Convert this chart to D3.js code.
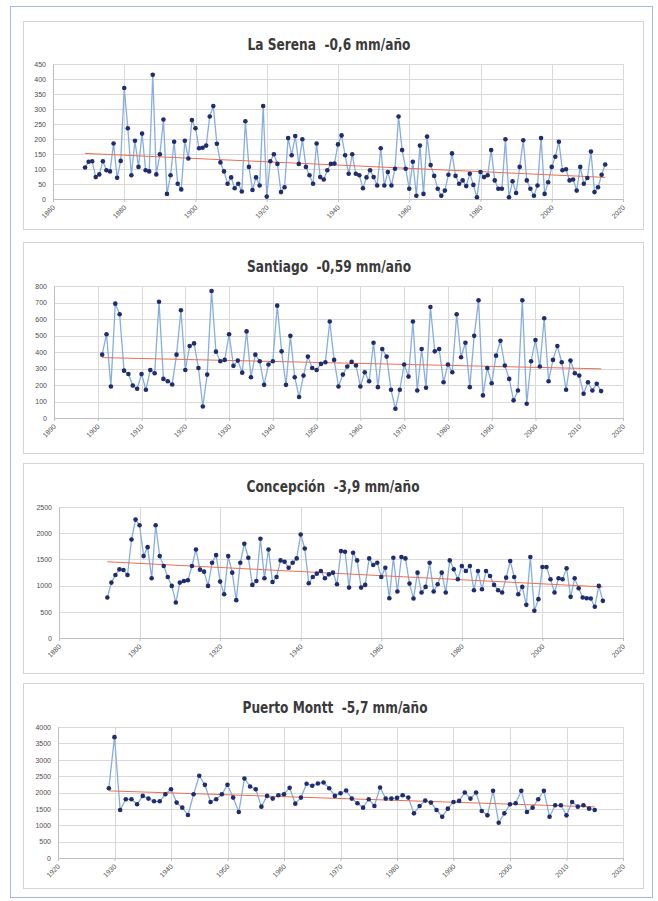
<!DOCTYPE html>
<html>
<head>
<meta charset="utf-8">
<script src="https://cdn.jsdelivr.net/npm/d3@7/dist/d3.min.js"></script>
<style>
  body { margin: 0; background: #fff; }
  svg { display: block; }
  .title { font-family: "DejaVu Sans", sans-serif; font-weight: bold; fill: #3a3a3a; white-space: pre; }
  .tick text { font-family: "Liberation Sans", Arial, sans-serif; }
</style>
</head>
<body>
<svg id="chart" width="658" height="901"></svg>
<script>
// annual precipitation (mm), one value per year from the start year
var laSerenaStart = 1869;
var laSerenaValues = [105,124,126,73,82,126,96,92,185,71,127,370,236,79,194,107,218,96,92,414,
  82,149,265,17,79,191,51,32,194,135,263,236,169,171,178,275,310,184,122,92,
  51,72,36,51,25,259,107,30,72,45,310,8,126,149,117,23,39,203,146,210,
  117,199,107,79,51,185,73,65,96,117,118,182,212,146,84,149,84,79,36,72,
  96,73,45,169,45,90,45,101,275,163,101,34,124,11,178,17,208,113,77,34,
  11,28,81,152,77,51,62,43,84,47,6,90,73,79,163,62,34,34,199,6,
  59,20,107,196,62,34,11,45,203,17,56,107,141,191,96,99,62,65,28,107,
  51,70,158,23,39,81,115];
var laSerenaTrend = [[1869, 152], [2015, 72]];

var santiagoStart = 1901;
var santiagoValues = [384,508,191,693,629,287,267,197,177,267,171,291,271,705,237,223,203,384,653,291,
  436,452,303,70,263,770,402,344,352,508,316,348,275,525,247,384,344,201,324,344,
  681,404,201,498,247,127,257,372,303,291,328,338,585,352,191,263,312,340,318,191,
  277,223,456,187,418,372,171,56,171,324,251,585,167,418,183,673,404,418,217,324,
  277,629,368,456,187,498,713,137,303,211,378,468,318,237,107,167,713,86,344,472,
  312,605,223,352,436,338,171,348,271,257,147,217,167,207,163];
var santiagoTrend = [[1901, 366], [2015, 298]];

var concepcionStart = 1892;
var concepcionValues = [772,1057,1203,1310,1298,1203,1880,2260,2152,1563,1734,1139,2152,1563,1374,1165,994,677,1057,1089,
  1101,1374,1690,1304,1266,994,1437,1582,1076,836,1563,1247,722,1437,1798,1532,1013,1089,1893,1139,
  1690,1070,1165,1481,1456,1342,1437,1519,1975,1709,1044,1165,1228,1279,1139,1215,1247,1025,1658,1646,
  962,1627,1481,962,1013,1519,1393,1437,1165,1342,760,1532,886,1545,1519,1038,753,1247,867,975,
  1437,886,1025,1247,867,1481,1310,1120,1374,1279,1374,912,1279,930,1279,1184,1013,912,867,1152,
  1469,1165,836,975,633,1545,519,741,1355,1355,1120,867,1139,1120,1329,785,1139,950,772,760,
  753,595,994,709];
var concepcionTrend = [[1892, 1455], [2015, 975]];

var puertoMonttStart = 1929;
var puertoMonttValues = [2132,3690,1466,1794,1794,1640,1896,1814,1732,1732,1947,2101,1691,1538,1312,1947,2511,2234,1712,1794,
  1947,2234,1845,1404,2429,2183,2101,1568,1896,1814,1917,1947,2142,1660,1845,2265,2204,2276,2306,2132,
  1896,1978,2060,1814,1671,1538,1794,1589,2153,1814,1814,1835,1917,1845,1363,1589,1753,1691,1466,1261,
  1507,1712,1743,1999,1814,1999,1435,1302,2050,1076,1363,1640,1671,2050,1404,1538,1794,2050,1261,1609,
  1609,1302,1712,1568,1609,1507,1466];
var puertoMonttTrend = [[1929, 2050], [2015, 1560]];

var titles = ["La Serena  -0,6 mm/año", "Santiago  -0,59 mm/año", "Concepción  -3,9 mm/año", "Puerto Montt  -5,7 mm/año"];
var titleWidths = [163, 164, 173, 185];
var xTicks = [d3.range(1860, 2021, 20), d3.range(1890, 2021, 10), d3.range(1880, 2021, 20), d3.range(1920, 2021, 10)];
var yTicks = [d3.range(0, 451, 50), d3.range(0, 801, 100), d3.range(0, 2501, 500), d3.range(0, 4001, 500)];

var series = [
  {start: laSerenaStart, values: laSerenaValues, trend: laSerenaTrend},
  {start: santiagoStart, values: santiagoValues, trend: santiagoTrend},
  {start: concepcionStart, values: concepcionValues, trend: concepcionTrend},
  {start: puertoMonttStart, values: puertoMonttValues, trend: puertoMonttTrend}
];

// layout of each panel: box, title baseline, plot area
var layout = [
  {box: [23, 21, 620, 208], titleY: 50, titleX: 329, plot: [53, 64, 623, 199]},
  {box: [23, 242, 620, 211], titleY: 272, titleX: 329, plot: [54, 286, 623, 418]},
  {box: [23, 463, 620, 210], titleY: 492, titleX: 333, plot: [59, 507, 623, 638]},
  {box: [23, 683, 620, 205], titleY: 713, titleX: 335, plot: [58, 727, 623, 858]}
];

var svg = d3.select("#chart");

// outer dotted frame
svg.append("rect")
  .attr("x", 10.5).attr("y", 6.5).attr("width", 642).attr("height", 891)
  .attr("fill", "none").attr("stroke", "#4f6fcf").attr("stroke-width", 1)
  .attr("stroke-dasharray", "1,1");

layout.forEach(function(L, i){
  var s = series[i];
  var g = svg.append("g");

  g.append("rect")
    .attr("x", L.box[0] + 1).attr("y", L.box[1] + 1)
    .attr("width", L.box[2]).attr("height", L.box[3])
    .attr("fill", "#ececec");
  g.append("rect")
    .attr("x", L.box[0] + 0.5).attr("y", L.box[1] + 0.5)
    .attr("width", L.box[2]).attr("height", L.box[3])
    .attr("fill", "#fff").attr("stroke", "#d4d4d4");

  g.append("text").attr("class", "title")
    .attr("x", L.titleX).attr("y", L.titleY)
    .attr("text-anchor", "middle")
    .attr("textLength", titleWidths[i])
    .attr("lengthAdjust", "spacingAndGlyphs")
    .style("font-size", "16px")
    .text(titles[i]);

  var xt = xTicks[i], yt = yTicks[i];
  var x = d3.scaleLinear().domain([xt[0], xt[xt.length - 1]]).range([L.plot[0], L.plot[2]]);
  var y = d3.scaleLinear().domain([0, yt[yt.length - 1]]).range([L.plot[3], L.plot[1]]);

  // gridlines
  g.append("g").selectAll("line").data(yt).enter().append("line")
    .attr("x1", L.plot[0]).attr("x2", L.plot[2])
    .attr("y1", function(d){ return Math.round(y(d)) + 0.5; })
    .attr("y2", function(d){ return Math.round(y(d)) + 0.5; })
    .attr("stroke", "#d9d9d9");
  g.append("g").selectAll("line").data(xt).enter().append("line")
    .attr("x1", function(d){ return Math.round(x(d)) + 0.5; })
    .attr("x2", function(d){ return Math.round(x(d)) + 0.5; })
    .attr("y1", L.plot[1]).attr("y2", L.plot[3])
    .attr("stroke", "#d9d9d9");

  // axes
  var yAxis = d3.axisLeft(y).tickValues(yt).tickSize(0).tickPadding(7).tickFormat(d3.format("d"));
  var yg = g.append("g").attr("transform", "translate(" + L.plot[0] + ",0)").call(yAxis);
  yg.select(".domain").attr("stroke", "#bfbfbf");
  yg.selectAll("text").style("font-size", "7px").attr("fill", "#4d4d4d");

  var xAxis = d3.axisBottom(x).tickValues(xt).tickSize(3).tickFormat(d3.format("d"));
  var xg = g.append("g").attr("transform", "translate(0," + L.plot[3] + ")").call(xAxis);
  xg.select(".domain").attr("stroke", "#bfbfbf");
  xg.selectAll(".tick line").attr("stroke", "#bfbfbf");
  xg.selectAll("text")
    .style("font-size", "7px")
    .attr("fill", "#4d4d4d")
    .attr("text-anchor", "end")
    .attr("dy", 0).attr("y", 0)
    .attr("transform", "translate(2,9) rotate(-45)");

  // data
  var pts = s.values.map(function(v, k){ return {year: s.start + k, value: v}; });
  var line = d3.line().x(function(d){ return x(d.year); }).y(function(d){ return y(d.value); });

  g.append("path").datum(pts)
    .attr("d", line).attr("fill", "none")
    .attr("stroke", "#86aee0").attr("stroke-width", 1.3);

  g.append("path")
    .datum(s.trend.map(function(t){ return {year: t[0], value: t[1]}; }))
    .attr("d", line).attr("fill", "none")
    .attr("stroke", "#ef6f4f").attr("stroke-width", 1);

  g.append("g").selectAll("circle").data(pts).enter().append("circle")
    .attr("cx", function(d){ return x(d.year); })
    .attr("cy", function(d){ return y(d.value); })
    .attr("r", 2.3)
    .attr("fill", "#1f2c6e");
});
</script>
</body>
</html>
